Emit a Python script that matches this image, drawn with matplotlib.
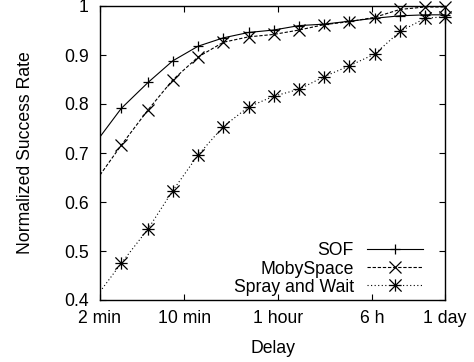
import matplotlib
matplotlib.use("Agg")
import matplotlib.pyplot as plt
from matplotlib.path import Path
import numpy as np

plt.rcParams['font.family'] = ['Liberation Sans', 'DejaVu Sans']

# Delay in minutes
delay_min = [2, 3, 5, 8, 13, 21, 34, 55, 89, 144, 233, 377, 610, 987, 1440]
sof = [0.733, 0.791, 0.844, 0.888, 0.918, 0.935, 0.946, 0.951, 0.960, 0.963,
       0.969, 0.975, 0.980, 0.982, 0.982]
moby = [0.655, 0.716, 0.788, 0.849, 0.896, 0.926, 0.937, 0.942, 0.951, 0.962,
        0.968, 0.977, 0.993, 0.998, 0.998]
spray = [0.417, 0.475, 0.545, 0.623, 0.696, 0.754, 0.794, 0.816, 0.830, 0.856,
         0.878, 0.902, 0.948, 0.975, 0.978]
series_names = ["SOF", "MobySpace", "Spray and Wait"]

xtick_vals = [2, 10, 60, 360, 1440]
xtick_labels = ["2 min", "10 min", "1 hour", "6 h", "1 day"]
ytick_vals = [0.4, 0.5, 0.6, 0.7, 0.8, 0.9, 1.0]
ytick_labels = ["0.4", "0.5", "0.6", "0.7", "0.8", "0.9", "1"]

FS = 12.7

# gnuplot-like asterisk (plus + cross)
ast = Path([(-1, 0), (1, 0), (0, -1), (0, 1), (-1, -1), (1, 1), (-1, 1), (1, -1)],
           [Path.MOVETO, Path.LINETO] * 4)

fig = plt.figure(figsize=(4.74, 3.62), dpi=100)
ax = fig.add_axes([100 / 474, 1 - 300 / 362, 345 / 474, 294 / 362])

styles = [
    dict(ls='-', marker='+', ms=7.5),
    dict(ls=(0, (3, 1.6)), marker='x', ms=8.5),
    dict(ls=(0, (1, 2.2)), marker=ast, ms=8.8),
]
handles = []
for vals, st in zip([sof, moby, spray], styles):
    ln, = ax.plot(delay_min, vals, color='black', lw=0.8, ls=st['ls'])
    mk, = ax.plot(delay_min[1:], vals[1:], color='black', ls='none',
                  marker=st['marker'], ms=st['ms'], mew=0.9, clip_on=False)
    handles.append((ln, mk))

ax.set_xscale('log')
ax.set_xlim(2, 1440)
ax.set_ylim(0.4, 1.0)
ax.set_xticks(xtick_vals)
ax.set_xticklabels(xtick_labels)
ax.xaxis.set_minor_locator(matplotlib.ticker.NullLocator())
ax.set_yticks(ytick_vals)
ax.set_yticklabels(ytick_labels)

ax.tick_params(axis='both', which='major', direction='in', length=4.3, width=0.8,
               top=True, right=True, labelsize=FS, colors='black')
ax.tick_params(axis='x', pad=7.5)
ax.tick_params(axis='y', pad=8.0)
for s in ax.spines.values():
    s.set_linewidth(1.0)

ax.set_xlabel("Delay", fontsize=FS)
ax.set_ylabel("Normalized Success Rate", fontsize=FS)
ax.xaxis.set_label_coords(0.5, -0.135)
ax.yaxis.set_label_coords(-0.19, 0.5)

leg = ax.legend(handles, series_names, loc='lower right',
                bbox_to_anchor=((423 - 100) / 345, 0.015),
                frameon=False, markerfirst=False, fontsize=FS,
                handlelength=3.2, handletextpad=0.72, labelspacing=0.06,
                borderpad=0, borderaxespad=0, numpoints=1)

fig.savefig("out.png", dpi=100)
